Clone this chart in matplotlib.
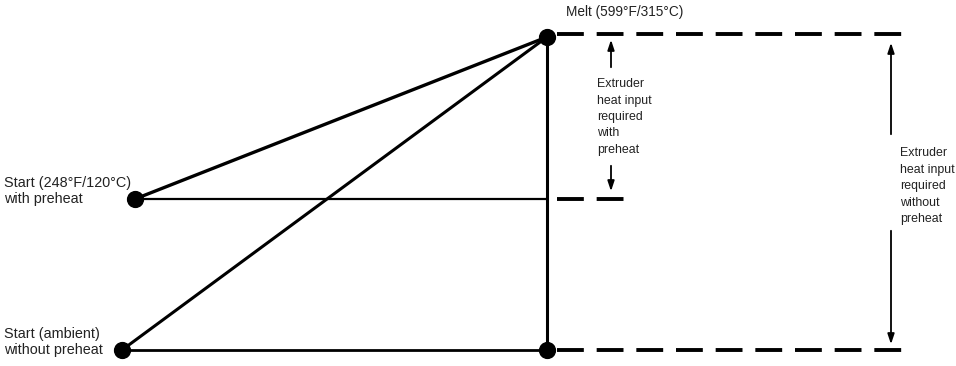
import matplotlib.pyplot as plt

plt.rcParams['font.family'] = ['Liberation Sans', 'DejaVu Sans']

# node positions in picture units (x right, y down)
point_names = ['Start preheat', 'Start ambient', 'Melt', 'Melt base']
point_x = [135, 122, 547, 547]
point_y = [199, 350, 37, 350]

# dashed reference levels: (y, x_start, x_end)
dash_y = [34, 199, 350]
dash_x0 = [557, 557, 557]
dash_x1 = [907, 624, 907]

labels = [
    ('Start (248°F/120°C)\nwith preheat', 4, 191, 10.4),
    ('Start (ambient)\nwithout preheat', 4, 342, 10.4),
    ('Melt (599°F/315°C)', 566, 12, 9.8),
]

fig = plt.figure(figsize=(9.56, 3.66), dpi=100)
ax = fig.add_axes([0, 0, 1, 1])
ax.set_xlim(0, 956)
ax.set_ylim(366, 0)
ax.axis('off')

px = dict(zip(point_names, zip(point_x, point_y)))

# solid lines
segs = [
    ('Start preheat', 'Melt', 2.4),
    ('Start ambient', 'Melt', 2.2),
    ('Melt', 'Melt base', 2.2),
    ('Start ambient', 'Melt base', 2.0),
]
for a, b, w in segs:
    ax.plot([px[a][0], px[b][0]], [px[a][1], px[b][1]], color='black', lw=w,
            solid_capstyle='butt')
ax.plot([px['Start preheat'][0], 547], [199, 199], color='black', lw=1.6)

# dashed level lines
for y, x0, x1 in zip(dash_y, dash_x0, dash_x1):
    ax.plot([x0, x1], [y, y], color='black', lw=2.8, dashes=(6.9, 3.3),
            solid_capstyle='butt')

ax.scatter(point_x, point_y, s=130, color='black', zorder=5)

for txt, x, y, fs in labels:
    ax.text(x, y, txt, fontsize=fs, ha='left', va='center', color='#222222',
            linespacing=1.2)

# dimension arrows
arrow = dict(arrowstyle='-|>,head_length=0.6,head_width=0.2', color='black', lw=1.3)
ax.annotate('', xy=(611, 37), xytext=(611, 70), arrowprops=arrow)
ax.annotate('', xy=(611, 194), xytext=(611, 163), arrowprops=arrow)
ax.text(597, 117, 'Extruder\nheat input\nrequired\nwith\npreheat', fontsize=8.9,
        ha='left', va='center', color='#222222', linespacing=1.48)

ax.annotate('', xy=(891, 40), xytext=(891, 137), arrowprops=arrow)
ax.annotate('', xy=(891, 347), xytext=(891, 228), arrowprops=arrow)
ax.text(900, 186, 'Extruder\nheat input\nrequired\nwithout\npreheat', fontsize=8.9,
        ha='left', va='center', color='#222222', linespacing=1.5)

fig.savefig('out.png', dpi=100)
